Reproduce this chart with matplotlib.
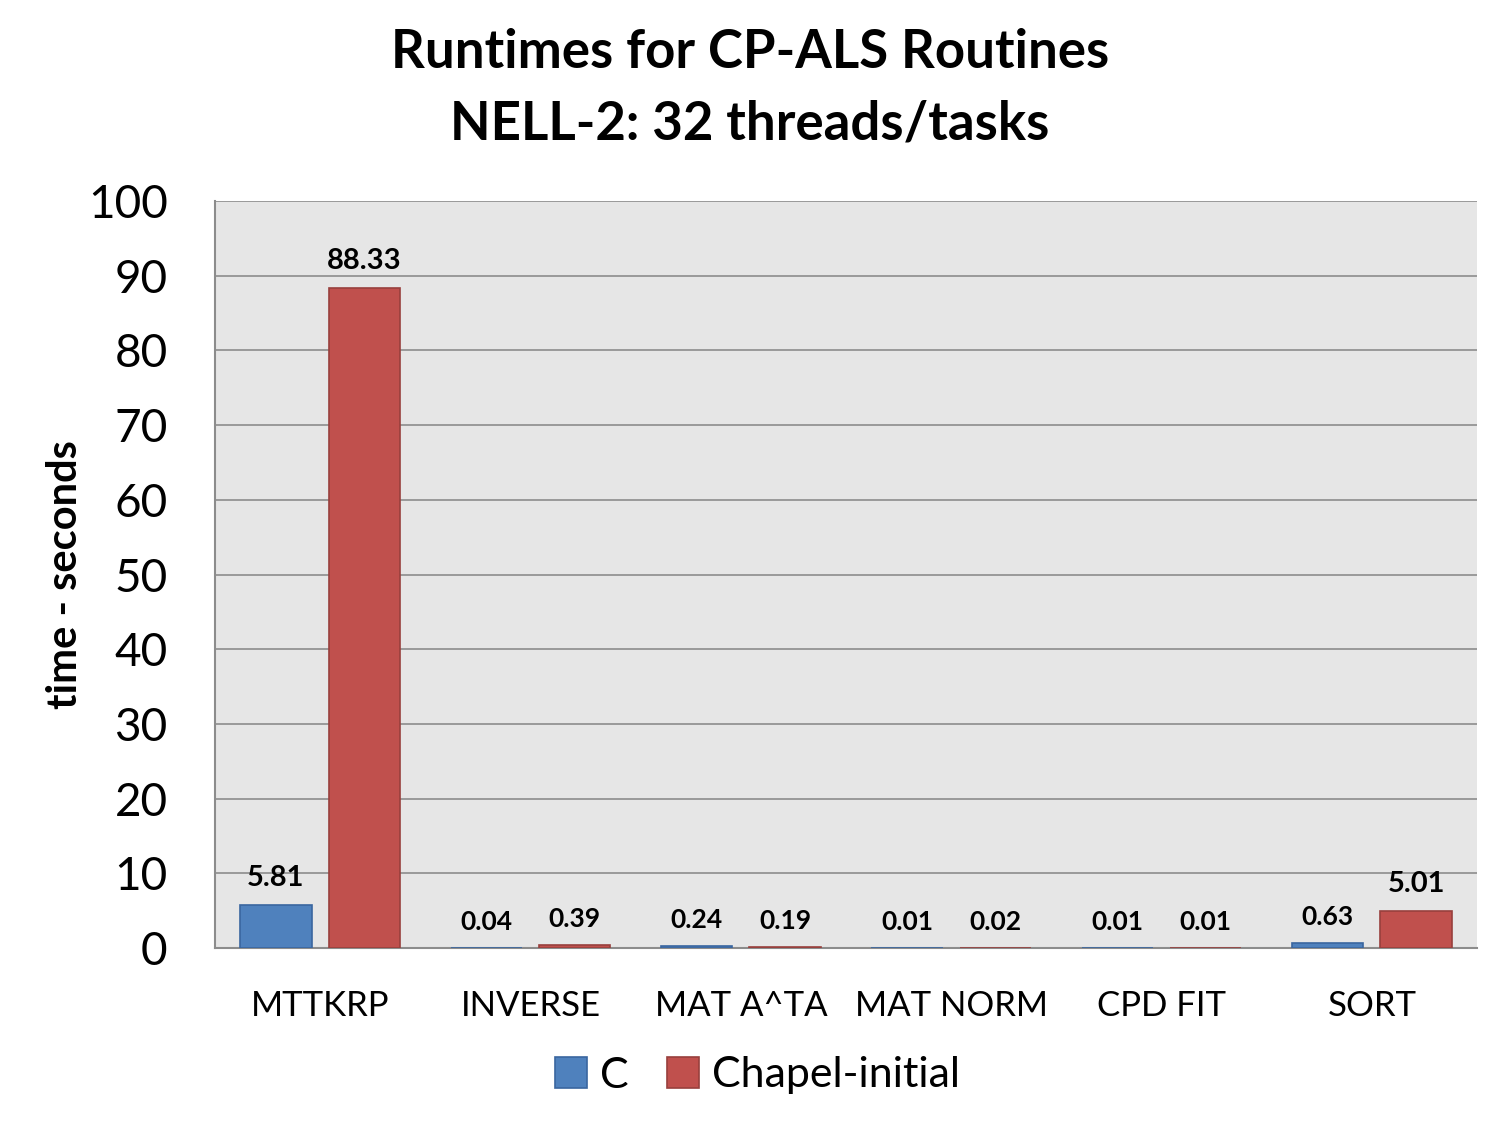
import numpy as np
import matplotlib
matplotlib.use("Agg")
import matplotlib.pyplot as plt

plt.rcParams['font.family'] = ['Lato', 'DejaVu Sans']

categories = ['MTTKRP', 'INVERSE', 'MAT A^TA', 'MAT NORM', 'CPD FIT', 'SORT']
c_times = [5.81, 0.04, 0.24, 0.01, 0.01, 0.63]
chapel_times = [88.33, 0.39, 0.19, 0.02, 0.01, 5.01]
yticks = [0, 10, 20, 30, 40, 50, 60, 70, 80, 90, 100]

fig = plt.figure(figsize=(15, 11.25), dpi=100)
ax = fig.add_axes([0.1433, 0.1573, 0.8414, 0.664])
ax.set_facecolor('#E6E6E6')

x = np.arange(len(categories))
w = 0.34
off = 0.21
b1 = ax.bar(x - off, c_times, w, color='#4F81BD', edgecolor='#3A66A0', linewidth=1.2, label='C', zorder=3)
b2 = ax.bar(x + off, chapel_times, w, color='#C0504D', edgecolor='#98403D', linewidth=1.2, label='Chapel-initial', zorder=3)

for bars, vals in [(b1, c_times), (b2, chapel_times)]:
    for b, v in zip(bars, vals):
        size = 21 if v >= 1 else 19
        ax.annotate(f'{v:.2f}', (b.get_x() + b.get_width() / 2, v), xytext=(0, 10),
                    textcoords='offset points', ha='center', va='bottom',
                    fontsize=size, fontweight='bold')

ax.set_xlim(-0.5, len(categories) - 0.5)
ax.set_ylim(0, 100)
ax.set_yticks(yticks)
ax.set_yticklabels([str(t) for t in yticks], fontsize=33)
ax.set_xticks(x)
ax.set_xticklabels(categories, fontsize=25)
ax.tick_params(axis='both', length=0)
ax.tick_params(axis='y', pad=34)
ax.tick_params(axis='x', pad=30)
ax.grid(axis='y', color='#8C8C8C', linewidth=1.2, zorder=0)
for s in ['top', 'right']:
    ax.spines[s].set_visible(False)
for s in ['left', 'bottom']:
    ax.spines[s].set_color('#8C8C8C')
    ax.spines[s].set_linewidth(1.5)

ax.set_ylabel('time - seconds', fontsize=30, fontweight='bold', labelpad=3)
fig.suptitle('Runtimes for CP-ALS Routines\nNELL-2: 32 threads/tasks', fontsize=38,
             fontweight='bold', y=0.975, linespacing=1.55)

fig.legend(loc='center', bbox_to_anchor=(0.505, 0.044), ncol=2, frameon=False,
           fontsize=31, handlelength=0.75, handleheight=0.75, handletextpad=0.3,
           columnspacing=0.9)

fig.savefig('out.png', dpi=100)
